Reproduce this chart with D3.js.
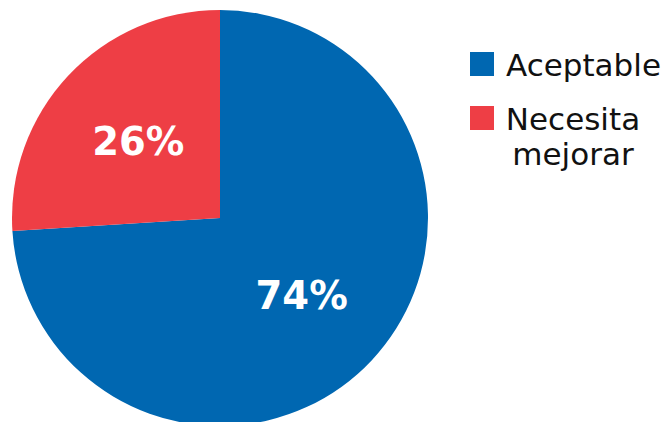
<!DOCTYPE html>
<html>
<head>
<meta charset="utf-8">
<script src="https://cdn.jsdelivr.net/npm/d3@7"></script>
<style>
  html, body { margin: 0; padding: 0; background: #fff; }
  svg { display: block; }
  text { font-family: "DejaVu Sans", Verdana, sans-serif; }
</style>
</head>
<body>
<svg id="chart" width="668" height="422"></svg>
<script>
// Survey result shares
const categories = ["Aceptable", "Necesita mejorar"];
const values = [74, 26];
const legendLines = [["Aceptable"], ["Necesita", "mejorar"]];
const colors = ["#0067B1", "#EE3E45"];

const svg = d3.select("#chart");
const cx = 220, cy = 218, radius = 208;

const color = d3.scaleOrdinal().domain(categories).range(colors);

const pie = d3.pie().sort(null).value(d => d.value);
const data = categories.map((c, i) => ({ category: c, value: values[i] }));
const arcs = pie(data);

const arc = d3.arc().innerRadius(0).outerRadius(radius);
const labelR = 112;
const labelArc = d3.arc().innerRadius(labelR).outerRadius(labelR);

const g = svg.append("g").attr("transform", `translate(${cx},${cy})`);

g.selectAll("path.slice")
  .data(arcs)
  .join("path")
  .attr("class", "slice")
  .attr("d", arc)
  .attr("fill", d => color(d.data.category));

g.selectAll("text.pct")
  .data(arcs)
  .join("text")
  .attr("class", "pct")
  .attr("transform", d => `translate(${labelArc.centroid(d)})`)
  .attr("text-anchor", "middle")
  .attr("dy", "0.36em")
  .attr("fill", "#fff")
  .attr("font-weight", "bold")
  .attr("font-size", 38.5)
  .text(d => d.data.value + "%");

// Legend
const legend = svg.append("g").attr("transform", "translate(470,52)");
const rowGap = 54;
const item = legend.selectAll("g.item")
  .data(categories)
  .join("g")
  .attr("class", "item")
  .attr("transform", (d, i) => `translate(0,${i * rowGap})`);

item.append("rect")
  .attr("width", 24)
  .attr("height", 24)
  .attr("fill", d => color(d));

// single-line entries sit left-aligned; wrapped entries are centred line by line
item.append("text")
  .attr("y", 24)
  .attr("font-size", 31)
  .attr("fill", "#111")
  .attr("text-anchor", (d, i) => legendLines[i].length > 1 ? "middle" : "start")
  .each(function (d, i) {
    const lines = legendLines[i];
    const x = lines.length > 1 ? 103 : 36;
    d3.select(this).selectAll("tspan")
      .data(lines)
      .join("tspan")
      .attr("x", x)
      .attr("dy", (t, j) => j === 0 ? 0 : 35)
      .text(t => t);
  });
</script>
</body>
</html>
